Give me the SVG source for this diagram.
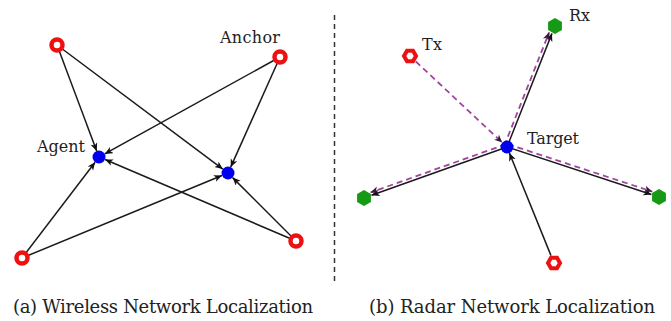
<svg xmlns="http://www.w3.org/2000/svg" width="671" height="321" viewBox="0 0 671 321">
<defs>
<style>
.lbl{font-family:'DejaVu Serif','Liberation Serif',serif;font-size:16px;fill:#222}
.cap{font-family:'DejaVu Serif','Liberation Serif',serif;font-size:18px;fill:#222}
.edge{stroke:#1a1a1a;stroke-width:1.5;fill:none;marker-end:url(#arr)}
.dash{stroke:#a2449f;stroke-width:1.8;fill:none;stroke-dasharray:6 4;marker-end:url(#arrp)}
.anchor{fill:#fff;stroke:#ee1111;stroke-width:4.5}
.agent{fill:#0000ee}
.rxh{fill:#169a16}
.txh{fill:#fff;stroke:#ee1111;stroke-width:4}
</style>
<marker id="arr" markerUnits="userSpaceOnUse" markerWidth="10" markerHeight="8" refX="8" refY="3.5" orient="auto">
<path d="M0,0 L8,3.5 L0,7 L2.2,3.5 z" fill="#111"/>
</marker>
<marker id="arrp" markerUnits="userSpaceOnUse" markerWidth="10" markerHeight="8" refX="8" refY="3.5" orient="auto">
<path d="M0,0 L8,3.5 L0,7 L2.2,3.5 z" fill="#3a1838"/>
</marker>
<polygon id="hexg" points="0,-8 6.93,-4 6.93,4 0,8 -6.93,4 -6.93,-4"/>
<polygon id="hexr" points="6,0 3,5.2 -3,5.2 -6,0 -3,-5.2 3,-5.2"/>
</defs>
<rect width="671" height="321" fill="#fff"/>

<g id="connectors">
<line class="edge" x1="57" y1="45" x2="96.7" y2="150.9"/>
<line class="edge" x1="57" y1="45" x2="222.8" y2="169.1"/>
<line class="edge" x1="280" y1="57" x2="104.7" y2="153.9"/>
<line class="edge" x1="280" y1="57" x2="230.7" y2="167.1"/>
<line class="edge" x1="22" y1="258" x2="95.1" y2="162.2"/>
<line class="edge" x1="22" y1="258" x2="222.0" y2="175.5"/>
<line class="edge" x1="296" y1="241" x2="105.0" y2="159.5"/>
<line class="edge" x1="296" y1="241" x2="232.6" y2="177.6"/>

<line class="dash" x1="415.8" y1="61.5" x2="502.3" y2="142.6"/>
<line class="edge" x1="507" y1="147" x2="552.0" y2="33.4"/>
<line class="dash" x1="504.2" y1="145.9" x2="549.2" y2="32.3"/>
<line class="edge" x1="507" y1="147" x2="371.5" y2="195.3"/>
<line class="dash" x1="506" y1="144.2" x2="370.5" y2="192.5"/>
<line class="edge" x1="507" y1="147" x2="651.4" y2="194.5"/>
<line class="dash" x1="507.9" y1="144.2" x2="652.3" y2="191.6"/>
<line class="edge" x1="551" y1="255.6" x2="509.4" y2="153.0"/>
</g>

<line id="divider" x1="334.5" y1="15" x2="334.5" y2="285" stroke="#333" stroke-width="1.5" stroke-dasharray="5 4"/>

<g id="anchor1"><circle class="anchor" cx="57" cy="45" r="5.5"/></g>
<g id="anchor2"><circle class="anchor" cx="280" cy="57" r="5.5"/><text class="lbl" x="220" y="43" textLength="60">Anchor</text></g>
<g id="anchor3"><circle class="anchor" cx="22" cy="258" r="5.5"/></g>
<g id="anchor4"><circle class="anchor" cx="296" cy="241" r="5.5"/></g>
<g id="agent1"><circle class="agent" cx="99" cy="157" r="6.5"/><text class="lbl" x="37" y="152" textLength="48">Agent</text></g>
<g id="agent2"><circle class="agent" cx="228" cy="173" r="6.5"/></g>

<g id="tx"><use href="#hexr" class="txh" x="410" y="56"/><text class="lbl" x="422" y="50" textLength="20">Tx</text></g>
<g id="rx"><use href="#hexg" class="rxh" x="555" y="26"/><text class="lbl" x="569" y="21" textLength="21">Rx</text></g>
<g id="rx-left"><use href="#hexg" class="rxh" x="364" y="198"/></g>
<g id="rx-right"><use href="#hexg" class="rxh" x="659" y="197"/></g>
<g id="tx-bottom"><use href="#hexr" class="txh" x="554" y="263"/></g>
<g id="target"><circle class="agent" cx="507" cy="147" r="6.5"/><text class="lbl" x="527" y="144" textLength="52">Target</text></g>

<g id="captions">
<text class="cap" x="13" y="313" textLength="300">(a) Wireless Network Localization</text>
<text class="cap" x="369" y="313" textLength="286">(b) Radar Network Localization</text>
</g>
</svg>
